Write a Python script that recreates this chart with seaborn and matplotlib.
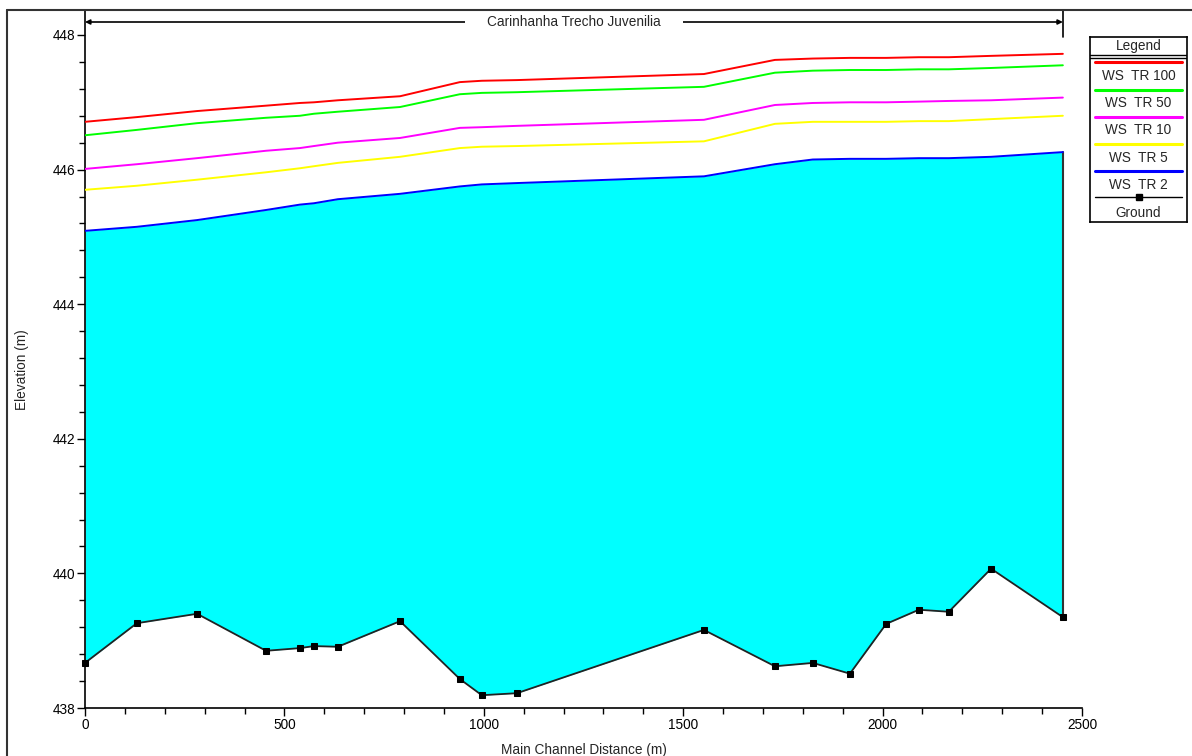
import numpy as np
import pandas as pd
import seaborn as sns
import matplotlib
matplotlib.use('agg')
from matplotlib import pyplot as plt
from matplotlib.lines import Line2D
from matplotlib.ticker import MultipleLocator

# main channel stations (m)
station = [0, 130, 281, 454, 539, 574, 634, 790, 940, 995, 1083, 1552,
           1730, 1825, 1918, 2009, 2091, 2166, 2272, 2452]

ground = [438.67, 439.26, 439.40, 438.85, 438.89, 438.92, 438.91, 439.29, 438.43, 438.19,
          438.22, 439.16, 438.62, 438.67, 438.51, 439.25, 439.46, 439.43, 440.07, 439.35]

ws_tr2 = [445.09, 445.15, 445.25, 445.40, 445.48, 445.50, 445.56, 445.64, 445.75, 445.78,
          445.80, 445.90, 446.08, 446.15, 446.16, 446.16, 446.17, 446.17, 446.19, 446.26]
ws_tr5 = [445.70, 445.76, 445.85, 445.96, 446.02, 446.05, 446.10, 446.19, 446.32, 446.34,
          446.35, 446.42, 446.68, 446.71, 446.71, 446.71, 446.72, 446.72, 446.75, 446.80]
ws_tr10 = [446.01, 446.08, 446.17, 446.28, 446.32, 446.35, 446.40, 446.47, 446.62, 446.63,
           446.65, 446.74, 446.96, 446.99, 447.00, 447.00, 447.01, 447.02, 447.03, 447.07]
ws_tr50 = [446.51, 446.59, 446.69, 446.77, 446.80, 446.83, 446.86, 446.93, 447.12, 447.14,
           447.15, 447.23, 447.44, 447.47, 447.48, 447.48, 447.49, 447.49, 447.51, 447.55]
ws_tr100 = [446.71, 446.78, 446.87, 446.95, 446.99, 447.00, 447.03, 447.09, 447.30, 447.32,
            447.33, 447.42, 447.63, 447.65, 447.66, 447.66, 447.67, 447.67, 447.69, 447.72]

profiles = ['WS  TR 100', 'WS  TR 50', 'WS  TR 10', 'WS  TR 5', 'WS  TR 2']
colors = ['#ff0000', '#00ff00', '#ff00ff', '#ffff00', '#0000ff']
reach_name = 'Carinhanha Trecho Juvenilia'

data = pd.DataFrame({'Station': station, 'Ground': ground, 'WS  TR 2': ws_tr2,
                     'WS  TR 5': ws_tr5, 'WS  TR 10': ws_tr10, 'WS  TR 50': ws_tr50,
                     'WS  TR 100': ws_tr100})

sns.set_style('white')
plt.rcParams['font.family'] = ['Liberation Sans', 'DejaVu Sans']
fs = 9.8

W, H = 1192, 756
fig = plt.figure(figsize=(W / 100, H / 100), dpi=100)
ax = fig.add_axes([85 / W, 1 - 708 / H, (1082 - 85) / W, (708 - 10) / H])
ytop_lim = 448 + 698 / 67.3 - 10

# water fill between ground and lowest profile
ax.fill_between(data['Station'], data['Ground'], data['WS  TR 2'], color='#00ffff', lw=0, zorder=1)
ax.plot([station[-1], station[-1]], [ground[-1], ws_tr2[-1]], color='#333333', lw=1.5, zorder=2)

for name, c in zip(profiles, colors):
    sns.lineplot(data=data, x='Station', y=name, color=c, lw=1.4, ax=ax, zorder=3)
sns.lineplot(data=data, x='Station', y='Ground', color='#222222', lw=1.3, marker='s',
             markersize=4.6, markeredgecolor='black', markerfacecolor='black', ax=ax,
             zorder=4, clip_on=False)

ax.set_xlim(0, 2500)
ax.set_ylim(438, ytop_lim)
ax.xaxis.set_major_locator(MultipleLocator(500))
ax.xaxis.set_minor_locator(MultipleLocator(100))
ax.yaxis.set_major_locator(MultipleLocator(2))
ax.yaxis.set_minor_locator(MultipleLocator(0.4))
ax.tick_params(which='both', direction='out', bottom=True, left=True, colors='black', labelsize=fs, pad=1)
ax.tick_params(which='major', length=6, width=1)
ax.tick_params(which='minor', length=4, width=1)
for side in ['top', 'right']:
    ax.spines[side].set_visible(False)
for side in ['left', 'bottom']:
    ax.spines[side].set_color('black')
    ax.spines[side].set_linewidth(1.2)
ax.set_xlabel('Main Channel Distance (m)', fontsize=fs, labelpad=8)
ax.set_ylabel('')
fig.text(22 / W, 1 - 370 / H, 'Elevation (m)', rotation=90, fontsize=fs, va='center', ha='center')

# reach annotation at top
y_arrow = 448 + 13 / 67.3
ax.annotate('', xy=(0, y_arrow), xytext=(station[-1], y_arrow),
            arrowprops=dict(arrowstyle='<|-|>', color='black', lw=1.2, shrinkA=0, shrinkB=0,
                            mutation_scale=7), annotation_clip=False)
ax.plot([station[-1], station[-1]], [447.97, ytop_lim], color='black', lw=1.2, clip_on=False)
ax.text(station[-1] / 2, y_arrow, reach_name, ha='center', va='center', fontsize=fs,
        bbox=dict(facecolor='white', edgecolor='none', pad=16))

# frame around figure
fig.add_artist(Line2D([7 / W, 7 / W], [0, 1 - 10 / H], color='#333333', lw=1.5))
fig.add_artist(Line2D([7 / W, 1], [1 - 10 / H, 1 - 10 / H], color='#333333', lw=1.5))

# legend box
lg = fig.add_axes([1090 / W, 1 - 222 / H, 97 / W, (222 - 37) / H])
lg.set_xlim(0, 1)
lg.set_ylim(0, 1)
lg.set_xticks([])
lg.set_yticks([])
for s in lg.spines.values():
    s.set_color('black')
    s.set_linewidth(1.2)
hdr = 1 - 18 / 185
lg.text(0.5, (1 + hdr) / 2, 'Legend', ha='center', va='center', fontsize=fs)
lg.axhline(hdr, color='black', lw=1)
lg.axhline(hdr - 2.5 / 185, color='black', lw=1)
step = (hdr - 0.02) / 6
for i, (name, c) in enumerate(zip(profiles, colors)):
    ytop = hdr - 0.02 - i * step
    lg.plot([0.05, 0.95], [ytop - 0.02, ytop - 0.02], color=c, lw=2.2)
    lg.text(0.5, ytop - 0.02 - step * 0.5, name, ha='center', va='center', fontsize=fs)
ytop = hdr - 0.02 - 5 * step
lg.plot([0.05, 0.95], [ytop - 0.01, ytop - 0.01], color='black', lw=1)
lg.plot([0.5], [ytop - 0.01], marker='s', color='black', markersize=4)
lg.text(0.5, ytop - 0.01 - step * 0.6, 'Ground', ha='center', va='center', fontsize=fs)

fig.savefig('out.png', dpi=100, facecolor='white')
